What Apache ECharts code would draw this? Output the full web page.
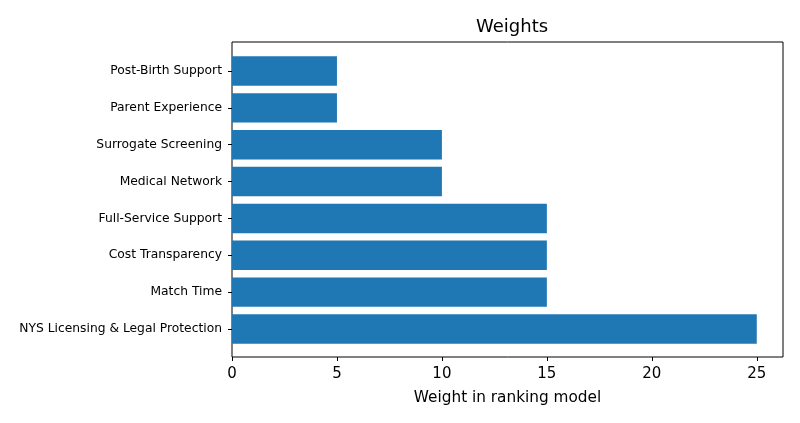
<!DOCTYPE html>
<html>
<head>
<meta charset="utf-8">
<script src="https://cdn.jsdelivr.net/npm/echarts@6/dist/echarts.min.js"></script>
<style>
  html, body { margin: 0; padding: 0; background: #fff; }
  #chart { width: 800px; height: 423px; }
</style>
</head>
<body>
<div id="chart"></div>
<script>
// categories listed bottom to top
const categories = [
  'NYS Licensing & Legal Protection',
  'Match Time',
  'Cost Transparency',
  'Full-Service Support',
  'Medical Network',
  'Surrogate Screening',
  'Parent Experience',
  'Post-Birth Support'
];
const weights = [25, 15, 15, 15, 10, 10, 5, 5];
const xTicks = [0, 5, 10, 15, 20, 25];

const chart = echarts.init(document.getElementById('chart'));
const font = 'DejaVu Sans';

const option = {
  animation: false,
  title: {
    text: 'Weights',
    left: 471,
    top: 13,
    textStyle: { fontFamily: font, fontSize: 18, fontWeight: 'normal', color: '#000' }
  },
  grid: [
    // bars grid: category bands sized like matplotlib's
    { left: 232, right: 17, top: 52.6, bottom: 75.6 },
    // frame
    { left: 232, right: 17, top: 42, bottom: 66, show: true, borderColor: '#000', borderWidth: 1, backgroundColor: 'transparent' }
  ],
  xAxis: [
    {
      type: 'value',
      gridIndex: 0,
      min: 0,
      max: 26.25,
      interval: 5,
      offset: 9.6,
      axisLine: { show: false },
      axisTick: { show: true, length: 4, lineStyle: { color: '#000' } },
      axisLabel: {
        fontFamily: font, fontSize: 15, color: '#000', margin: 10,
        showMaxLabel: false,
        formatter: v => (xTicks.indexOf(v) >= 0 ? String(v) : '')
      },
      splitLine: { show: false },
      name: 'Weight in ranking model',
      nameLocation: 'middle',
      nameGap: 34,
      nameTextStyle: { fontFamily: font, fontSize: 15.3, color: '#000' }
    },
    { type: 'value', gridIndex: 1, show: false }
  ],
  yAxis: [
    {
      type: 'category',
      gridIndex: 0,
      data: categories,
      axisLine: { show: false },
      axisTick: { show: true, alignWithLabel: true, length: 4, lineStyle: { color: '#000' } },
      axisLabel: { fontFamily: font, fontSize: 12.3, color: '#000', margin: 10 }
    },
    { type: 'value', gridIndex: 1, show: false }
  ],
  series: [
    {
      type: 'bar',
      xAxisIndex: 0,
      yAxisIndex: 0,
      data: weights,
      barWidth: '80%',
      itemStyle: { color: '#1f77b4' }
    }
  ]
};

chart.setOption(option);
</script>
</body>
</html>
